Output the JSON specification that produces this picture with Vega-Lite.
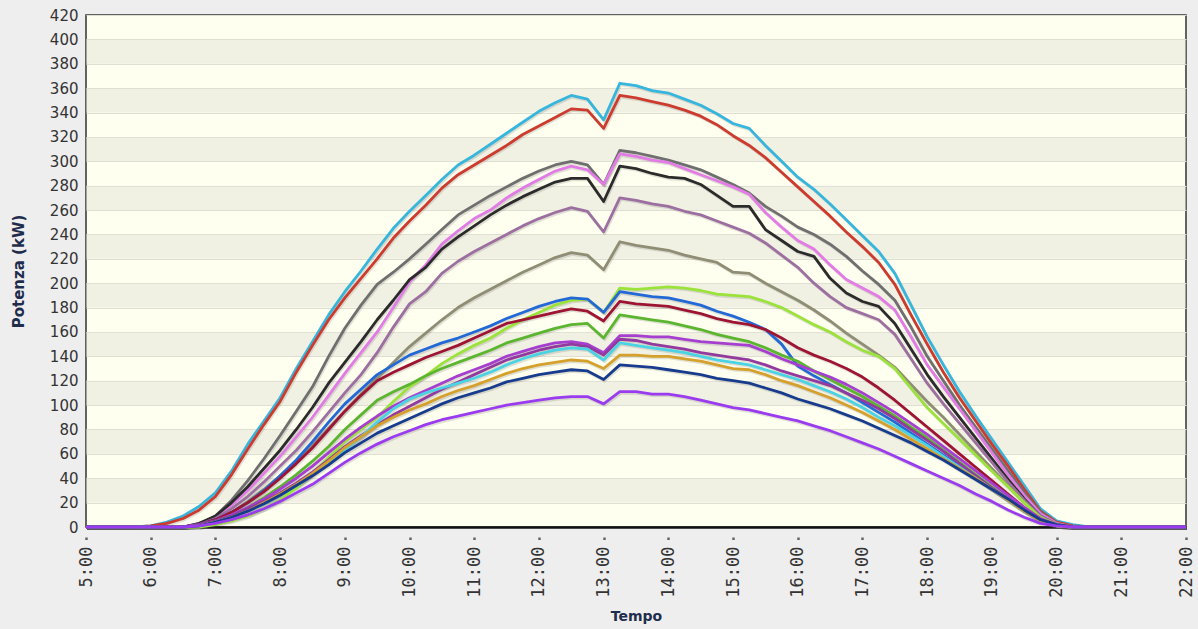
{
"$schema": "https://vega.github.io/schema/vega-lite/v6.json",
"width": 1100, "height": 512,
"autosize": "none",
"padding": {"left": 86, "top": 15, "right": 12, "bottom": 102},
"background": "#eeeeee",
"view": {"fill": "#fffff0", "stroke": "#333333", "strokeWidth": 1.5},
"datasets": {"lines": [
{"s":"A","h":5,"v":0},{"s":"A","h":5.75,"v":0},{"s":"A","h":6,"v":1},{"s":"A","h":6.25,"v":4},{"s":"A","h":6.5,"v":9},{"s":"A","h":6.75,"v":17},{"s":"A","h":7,"v":28},{"s":"A","h":7.25,"v":46},{"s":"A","h":7.5,"v":68},{"s":"A","h":7.75,"v":87},{"s":"A","h":8,"v":106},{"s":"A","h":8.25,"v":130},{"s":"A","h":8.5,"v":152},{"s":"A","h":8.75,"v":174},{"s":"A","h":9,"v":193},{"s":"A","h":9.25,"v":210},{"s":"A","h":9.5,"v":228},{"s":"A","h":9.75,"v":245},{"s":"A","h":10,"v":259},{"s":"A","h":10.25,"v":272},{"s":"A","h":10.5,"v":285},{"s":"A","h":10.75,"v":297},{"s":"A","h":11,"v":305},{"s":"A","h":11.25,"v":314},{"s":"A","h":11.5,"v":323},{"s":"A","h":11.75,"v":332},{"s":"A","h":12,"v":341},{"s":"A","h":12.25,"v":348},{"s":"A","h":12.5,"v":354},{"s":"A","h":12.75,"v":351},{"s":"A","h":13,"v":334},{"s":"A","h":13.25,"v":364},{"s":"A","h":13.5,"v":362},{"s":"A","h":13.75,"v":358},{"s":"A","h":14,"v":356},{"s":"A","h":14.25,"v":351},{"s":"A","h":14.5,"v":346},{"s":"A","h":14.75,"v":339},{"s":"A","h":15,"v":331},{"s":"A","h":15.25,"v":327},{"s":"A","h":15.5,"v":313},{"s":"A","h":15.75,"v":300},{"s":"A","h":16,"v":287},{"s":"A","h":16.25,"v":277},{"s":"A","h":16.5,"v":265},{"s":"A","h":16.75,"v":252},{"s":"A","h":17,"v":239},{"s":"A","h":17.25,"v":226},{"s":"A","h":17.5,"v":208},{"s":"A","h":17.75,"v":182},{"s":"A","h":18,"v":156},{"s":"A","h":18.25,"v":133},{"s":"A","h":18.5,"v":111},{"s":"A","h":18.75,"v":91},{"s":"A","h":19,"v":72},{"s":"A","h":19.25,"v":53},{"s":"A","h":19.5,"v":34},{"s":"A","h":19.75,"v":15},{"s":"A","h":20,"v":5},{"s":"A","h":20.25,"v":2},{"s":"A","h":20.5,"v":0},{"s":"A","h":22,"v":0},
{"s":"B","h":5,"v":0},{"s":"B","h":5.75,"v":0},{"s":"B","h":6,"v":1},{"s":"B","h":6.25,"v":3},{"s":"B","h":6.5,"v":7},{"s":"B","h":6.75,"v":14},{"s":"B","h":7,"v":25},{"s":"B","h":7.25,"v":43},{"s":"B","h":7.5,"v":64},{"s":"B","h":7.75,"v":84},{"s":"B","h":8,"v":103},{"s":"B","h":8.25,"v":127},{"s":"B","h":8.5,"v":149},{"s":"B","h":8.75,"v":170},{"s":"B","h":9,"v":188},{"s":"B","h":9.25,"v":204},{"s":"B","h":9.5,"v":220},{"s":"B","h":9.75,"v":237},{"s":"B","h":10,"v":251},{"s":"B","h":10.25,"v":264},{"s":"B","h":10.5,"v":278},{"s":"B","h":10.75,"v":289},{"s":"B","h":11,"v":297},{"s":"B","h":11.25,"v":305},{"s":"B","h":11.5,"v":313},{"s":"B","h":11.75,"v":322},{"s":"B","h":12,"v":329},{"s":"B","h":12.25,"v":336},{"s":"B","h":12.5,"v":343},{"s":"B","h":12.75,"v":342},{"s":"B","h":13,"v":327},{"s":"B","h":13.25,"v":354},{"s":"B","h":13.5,"v":352},{"s":"B","h":13.75,"v":349},{"s":"B","h":14,"v":346},{"s":"B","h":14.25,"v":342},{"s":"B","h":14.5,"v":337},{"s":"B","h":14.75,"v":330},{"s":"B","h":15,"v":321},{"s":"B","h":15.25,"v":313},{"s":"B","h":15.5,"v":303},{"s":"B","h":15.75,"v":291},{"s":"B","h":16,"v":279},{"s":"B","h":16.25,"v":267},{"s":"B","h":16.5,"v":255},{"s":"B","h":16.75,"v":242},{"s":"B","h":17,"v":230},{"s":"B","h":17.25,"v":217},{"s":"B","h":17.5,"v":199},{"s":"B","h":17.75,"v":174},{"s":"B","h":18,"v":150},{"s":"B","h":18.25,"v":127},{"s":"B","h":18.5,"v":106},{"s":"B","h":18.75,"v":87},{"s":"B","h":19,"v":68},{"s":"B","h":19.25,"v":50},{"s":"B","h":19.5,"v":31},{"s":"B","h":19.75,"v":13},{"s":"B","h":20,"v":4},{"s":"B","h":20.25,"v":1},{"s":"B","h":20.5,"v":0},{"s":"B","h":22,"v":0},
{"s":"C","h":5,"v":0},{"s":"C","h":6.5,"v":0},{"s":"C","h":6.75,"v":2},{"s":"C","h":7,"v":9},{"s":"C","h":7.25,"v":22},{"s":"C","h":7.5,"v":38},{"s":"C","h":7.75,"v":56},{"s":"C","h":8,"v":75},{"s":"C","h":8.25,"v":95},{"s":"C","h":8.5,"v":115},{"s":"C","h":8.75,"v":140},{"s":"C","h":9,"v":163},{"s":"C","h":9.25,"v":182},{"s":"C","h":9.5,"v":199},{"s":"C","h":9.75,"v":209},{"s":"C","h":10,"v":220},{"s":"C","h":10.25,"v":232},{"s":"C","h":10.5,"v":244},{"s":"C","h":10.75,"v":256},{"s":"C","h":11,"v":264},{"s":"C","h":11.25,"v":272},{"s":"C","h":11.5,"v":279},{"s":"C","h":11.75,"v":286},{"s":"C","h":12,"v":292},{"s":"C","h":12.25,"v":297},{"s":"C","h":12.5,"v":300},{"s":"C","h":12.75,"v":297},{"s":"C","h":13,"v":281},{"s":"C","h":13.25,"v":309},{"s":"C","h":13.5,"v":307},{"s":"C","h":13.75,"v":304},{"s":"C","h":14,"v":301},{"s":"C","h":14.25,"v":297},{"s":"C","h":14.5,"v":293},{"s":"C","h":14.75,"v":287},{"s":"C","h":15,"v":281},{"s":"C","h":15.25,"v":274},{"s":"C","h":15.5,"v":263},{"s":"C","h":15.75,"v":255},{"s":"C","h":16,"v":246},{"s":"C","h":16.25,"v":240},{"s":"C","h":16.5,"v":232},{"s":"C","h":16.75,"v":222},{"s":"C","h":17,"v":210},{"s":"C","h":17.25,"v":199},{"s":"C","h":17.5,"v":186},{"s":"C","h":17.75,"v":164},{"s":"C","h":18,"v":140},{"s":"C","h":18.25,"v":120},{"s":"C","h":18.5,"v":100},{"s":"C","h":18.75,"v":82},{"s":"C","h":19,"v":64},{"s":"C","h":19.25,"v":46},{"s":"C","h":19.5,"v":28},{"s":"C","h":19.75,"v":12},{"s":"C","h":20,"v":3},{"s":"C","h":20.25,"v":0},{"s":"C","h":22,"v":0},
{"s":"D","h":5,"v":0},{"s":"D","h":6.5,"v":0},{"s":"D","h":6.75,"v":3},{"s":"D","h":7,"v":8},{"s":"D","h":7.25,"v":18},{"s":"D","h":7.5,"v":30},{"s":"D","h":7.75,"v":44},{"s":"D","h":8,"v":58},{"s":"D","h":8.25,"v":74},{"s":"D","h":8.5,"v":90},{"s":"D","h":8.75,"v":108},{"s":"D","h":9,"v":126},{"s":"D","h":9.25,"v":143},{"s":"D","h":9.5,"v":160},{"s":"D","h":9.75,"v":180},{"s":"D","h":10,"v":201},{"s":"D","h":10.25,"v":215},{"s":"D","h":10.5,"v":232},{"s":"D","h":10.75,"v":243},{"s":"D","h":11,"v":253},{"s":"D","h":11.25,"v":260},{"s":"D","h":11.5,"v":270},{"s":"D","h":11.75,"v":278},{"s":"D","h":12,"v":285},{"s":"D","h":12.25,"v":292},{"s":"D","h":12.5,"v":296},{"s":"D","h":12.75,"v":293},{"s":"D","h":13,"v":281},{"s":"D","h":13.25,"v":306},{"s":"D","h":13.5,"v":304},{"s":"D","h":13.75,"v":301},{"s":"D","h":14,"v":299},{"s":"D","h":14.25,"v":294},{"s":"D","h":14.5,"v":289},{"s":"D","h":14.75,"v":284},{"s":"D","h":15,"v":279},{"s":"D","h":15.25,"v":273},{"s":"D","h":15.5,"v":258},{"s":"D","h":15.75,"v":246},{"s":"D","h":16,"v":235},{"s":"D","h":16.25,"v":228},{"s":"D","h":16.5,"v":215},{"s":"D","h":16.75,"v":203},{"s":"D","h":17,"v":196},{"s":"D","h":17.25,"v":189},{"s":"D","h":17.5,"v":178},{"s":"D","h":17.75,"v":156},{"s":"D","h":18,"v":133},{"s":"D","h":18.25,"v":115},{"s":"D","h":18.5,"v":97},{"s":"D","h":18.75,"v":79},{"s":"D","h":19,"v":61},{"s":"D","h":19.25,"v":43},{"s":"D","h":19.5,"v":26},{"s":"D","h":19.75,"v":11},{"s":"D","h":20,"v":3},{"s":"D","h":20.25,"v":0},{"s":"D","h":22,"v":0},
{"s":"E","h":5,"v":0},{"s":"E","h":6.5,"v":0},{"s":"E","h":6.75,"v":3},{"s":"E","h":7,"v":9},{"s":"E","h":7.25,"v":20},{"s":"E","h":7.5,"v":33},{"s":"E","h":7.75,"v":48},{"s":"E","h":8,"v":63},{"s":"E","h":8.25,"v":80},{"s":"E","h":8.5,"v":98},{"s":"E","h":8.75,"v":118},{"s":"E","h":9,"v":135},{"s":"E","h":9.25,"v":152},{"s":"E","h":9.5,"v":170},{"s":"E","h":9.75,"v":186},{"s":"E","h":10,"v":203},{"s":"E","h":10.25,"v":213},{"s":"E","h":10.5,"v":228},{"s":"E","h":10.75,"v":238},{"s":"E","h":11,"v":247},{"s":"E","h":11.25,"v":256},{"s":"E","h":11.5,"v":264},{"s":"E","h":11.75,"v":271},{"s":"E","h":12,"v":277},{"s":"E","h":12.25,"v":283},{"s":"E","h":12.5,"v":286},{"s":"E","h":12.75,"v":286},{"s":"E","h":13,"v":267},{"s":"E","h":13.25,"v":296},{"s":"E","h":13.5,"v":294},{"s":"E","h":13.75,"v":290},{"s":"E","h":14,"v":287},{"s":"E","h":14.25,"v":286},{"s":"E","h":14.5,"v":281},{"s":"E","h":14.75,"v":272},{"s":"E","h":15,"v":263},{"s":"E","h":15.25,"v":263},{"s":"E","h":15.5,"v":244},{"s":"E","h":15.75,"v":235},{"s":"E","h":16,"v":226},{"s":"E","h":16.25,"v":222},{"s":"E","h":16.5,"v":204},{"s":"E","h":16.75,"v":192},{"s":"E","h":17,"v":185},{"s":"E","h":17.25,"v":181},{"s":"E","h":17.5,"v":167},{"s":"E","h":17.75,"v":146},{"s":"E","h":18,"v":125},{"s":"E","h":18.25,"v":107},{"s":"E","h":18.5,"v":90},{"s":"E","h":18.75,"v":73},{"s":"E","h":19,"v":56},{"s":"E","h":19.25,"v":39},{"s":"E","h":19.5,"v":23},{"s":"E","h":19.75,"v":9},{"s":"E","h":20,"v":2},{"s":"E","h":20.25,"v":0},{"s":"E","h":22,"v":0},
{"s":"F","h":5,"v":0},{"s":"F","h":6.5,"v":0},{"s":"F","h":6.75,"v":2},{"s":"F","h":7,"v":7},{"s":"F","h":7.25,"v":15},{"s":"F","h":7.5,"v":25},{"s":"F","h":7.75,"v":37},{"s":"F","h":8,"v":50},{"s":"F","h":8.25,"v":63},{"s":"F","h":8.5,"v":78},{"s":"F","h":8.75,"v":94},{"s":"F","h":9,"v":110},{"s":"F","h":9.25,"v":125},{"s":"F","h":9.5,"v":143},{"s":"F","h":9.75,"v":164},{"s":"F","h":10,"v":183},{"s":"F","h":10.25,"v":193},{"s":"F","h":10.5,"v":208},{"s":"F","h":10.75,"v":218},{"s":"F","h":11,"v":226},{"s":"F","h":11.25,"v":233},{"s":"F","h":11.5,"v":240},{"s":"F","h":11.75,"v":247},{"s":"F","h":12,"v":253},{"s":"F","h":12.25,"v":258},{"s":"F","h":12.5,"v":262},{"s":"F","h":12.75,"v":259},{"s":"F","h":13,"v":242},{"s":"F","h":13.25,"v":270},{"s":"F","h":13.5,"v":268},{"s":"F","h":13.75,"v":265},{"s":"F","h":14,"v":263},{"s":"F","h":14.25,"v":259},{"s":"F","h":14.5,"v":256},{"s":"F","h":14.75,"v":251},{"s":"F","h":15,"v":246},{"s":"F","h":15.25,"v":241},{"s":"F","h":15.5,"v":233},{"s":"F","h":15.75,"v":223},{"s":"F","h":16,"v":213},{"s":"F","h":16.25,"v":200},{"s":"F","h":16.5,"v":189},{"s":"F","h":16.75,"v":180},{"s":"F","h":17,"v":175},{"s":"F","h":17.25,"v":170},{"s":"F","h":17.5,"v":158},{"s":"F","h":17.75,"v":138},{"s":"F","h":18,"v":118},{"s":"F","h":18.25,"v":101},{"s":"F","h":18.5,"v":85},{"s":"F","h":18.75,"v":69},{"s":"F","h":19,"v":53},{"s":"F","h":19.25,"v":37},{"s":"F","h":19.5,"v":22},{"s":"F","h":19.75,"v":9},{"s":"F","h":20,"v":2},{"s":"F","h":20.25,"v":0},{"s":"F","h":22,"v":0},
{"s":"G","h":5,"v":0},{"s":"G","h":6.75,"v":0},{"s":"G","h":7,"v":5},{"s":"G","h":7.25,"v":12},{"s":"G","h":7.5,"v":21},{"s":"G","h":7.75,"v":31},{"s":"G","h":8,"v":42},{"s":"G","h":8.25,"v":54},{"s":"G","h":8.5,"v":67},{"s":"G","h":8.75,"v":81},{"s":"G","h":9,"v":95},{"s":"G","h":9.25,"v":109},{"s":"G","h":9.5,"v":122},{"s":"G","h":9.75,"v":135},{"s":"G","h":10,"v":148},{"s":"G","h":10.25,"v":159},{"s":"G","h":10.5,"v":170},{"s":"G","h":10.75,"v":180},{"s":"G","h":11,"v":188},{"s":"G","h":11.25,"v":195},{"s":"G","h":11.5,"v":202},{"s":"G","h":11.75,"v":209},{"s":"G","h":12,"v":215},{"s":"G","h":12.25,"v":221},{"s":"G","h":12.5,"v":225},{"s":"G","h":12.75,"v":223},{"s":"G","h":13,"v":211},{"s":"G","h":13.25,"v":234},{"s":"G","h":13.5,"v":231},{"s":"G","h":13.75,"v":229},{"s":"G","h":14,"v":227},{"s":"G","h":14.25,"v":223},{"s":"G","h":14.5,"v":220},{"s":"G","h":14.75,"v":217},{"s":"G","h":15,"v":209},{"s":"G","h":15.25,"v":208},{"s":"G","h":15.5,"v":200},{"s":"G","h":15.75,"v":193},{"s":"G","h":16,"v":186},{"s":"G","h":16.25,"v":178},{"s":"G","h":16.5,"v":169},{"s":"G","h":16.75,"v":159},{"s":"G","h":17,"v":150},{"s":"G","h":17.25,"v":141},{"s":"G","h":17.5,"v":131},{"s":"G","h":17.75,"v":117},{"s":"G","h":18,"v":103},{"s":"G","h":18.25,"v":90},{"s":"G","h":18.5,"v":76},{"s":"G","h":18.75,"v":62},{"s":"G","h":19,"v":48},{"s":"G","h":19.25,"v":34},{"s":"G","h":19.5,"v":20},{"s":"G","h":19.75,"v":8},{"s":"G","h":20,"v":2},{"s":"G","h":20.25,"v":0},{"s":"G","h":22,"v":0},
{"s":"H","h":5,"v":0},{"s":"H","h":6.75,"v":0},{"s":"H","h":7,"v":2},{"s":"H","h":7.25,"v":5},{"s":"H","h":7.5,"v":9},{"s":"H","h":7.75,"v":15},{"s":"H","h":8,"v":22},{"s":"H","h":8.25,"v":32},{"s":"H","h":8.5,"v":44},{"s":"H","h":8.75,"v":57},{"s":"H","h":9,"v":70},{"s":"H","h":9.25,"v":80},{"s":"H","h":9.5,"v":90},{"s":"H","h":9.75,"v":103},{"s":"H","h":10,"v":115},{"s":"H","h":10.25,"v":124},{"s":"H","h":10.5,"v":134},{"s":"H","h":10.75,"v":142},{"s":"H","h":11,"v":149},{"s":"H","h":11.25,"v":155},{"s":"H","h":11.5,"v":163},{"s":"H","h":11.75,"v":170},{"s":"H","h":12,"v":176},{"s":"H","h":12.25,"v":182},{"s":"H","h":12.5,"v":186},{"s":"H","h":12.75,"v":187},{"s":"H","h":13,"v":176},{"s":"H","h":13.25,"v":196},{"s":"H","h":13.5,"v":195},{"s":"H","h":13.75,"v":196},{"s":"H","h":14,"v":197},{"s":"H","h":14.25,"v":196},{"s":"H","h":14.5,"v":194},{"s":"H","h":14.75,"v":191},{"s":"H","h":15,"v":190},{"s":"H","h":15.25,"v":189},{"s":"H","h":15.5,"v":185},{"s":"H","h":15.75,"v":180},{"s":"H","h":16,"v":173},{"s":"H","h":16.25,"v":166},{"s":"H","h":16.5,"v":160},{"s":"H","h":16.75,"v":152},{"s":"H","h":17,"v":145},{"s":"H","h":17.25,"v":140},{"s":"H","h":17.5,"v":130},{"s":"H","h":17.75,"v":114},{"s":"H","h":18,"v":98},{"s":"H","h":18.25,"v":85},{"s":"H","h":18.5,"v":72},{"s":"H","h":18.75,"v":59},{"s":"H","h":19,"v":46},{"s":"H","h":19.25,"v":33},{"s":"H","h":19.5,"v":20},{"s":"H","h":19.75,"v":8},{"s":"H","h":20,"v":2},{"s":"H","h":20.25,"v":0},{"s":"H","h":22,"v":0},
{"s":"I","h":5,"v":0},{"s":"I","h":6.5,"v":0},{"s":"I","h":6.75,"v":2},{"s":"I","h":7,"v":6},{"s":"I","h":7.25,"v":12},{"s":"I","h":7.5,"v":20},{"s":"I","h":7.75,"v":30},{"s":"I","h":8,"v":42},{"s":"I","h":8.25,"v":55},{"s":"I","h":8.5,"v":70},{"s":"I","h":8.75,"v":86},{"s":"I","h":9,"v":101},{"s":"I","h":9.25,"v":113},{"s":"I","h":9.5,"v":125},{"s":"I","h":9.75,"v":133},{"s":"I","h":10,"v":141},{"s":"I","h":10.25,"v":146},{"s":"I","h":10.5,"v":151},{"s":"I","h":10.75,"v":155},{"s":"I","h":11,"v":160},{"s":"I","h":11.25,"v":165},{"s":"I","h":11.5,"v":171},{"s":"I","h":11.75,"v":176},{"s":"I","h":12,"v":181},{"s":"I","h":12.25,"v":185},{"s":"I","h":12.5,"v":188},{"s":"I","h":12.75,"v":187},{"s":"I","h":13,"v":176},{"s":"I","h":13.25,"v":193},{"s":"I","h":13.5,"v":191},{"s":"I","h":13.75,"v":189},{"s":"I","h":14,"v":188},{"s":"I","h":14.25,"v":185},{"s":"I","h":14.5,"v":182},{"s":"I","h":14.75,"v":177},{"s":"I","h":15,"v":173},{"s":"I","h":15.25,"v":168},{"s":"I","h":15.5,"v":162},{"s":"I","h":15.75,"v":150},{"s":"I","h":16,"v":132},{"s":"I","h":16.25,"v":124},{"s":"I","h":16.5,"v":117},{"s":"I","h":16.75,"v":110},{"s":"I","h":17,"v":102},{"s":"I","h":17.25,"v":94},{"s":"I","h":17.5,"v":86},{"s":"I","h":17.75,"v":77},{"s":"I","h":18,"v":68},{"s":"I","h":18.25,"v":59},{"s":"I","h":18.5,"v":50},{"s":"I","h":18.75,"v":40},{"s":"I","h":19,"v":31},{"s":"I","h":19.25,"v":22},{"s":"I","h":19.5,"v":13},{"s":"I","h":19.75,"v":5},{"s":"I","h":20,"v":1},{"s":"I","h":20.25,"v":0},{"s":"I","h":22,"v":0},
{"s":"J","h":5,"v":0},{"s":"J","h":6.5,"v":0},{"s":"J","h":6.75,"v":2},{"s":"J","h":7,"v":6},{"s":"J","h":7.25,"v":12},{"s":"J","h":7.5,"v":20},{"s":"J","h":7.75,"v":29},{"s":"J","h":8,"v":40},{"s":"J","h":8.25,"v":52},{"s":"J","h":8.5,"v":65},{"s":"J","h":8.75,"v":80},{"s":"J","h":9,"v":95},{"s":"J","h":9.25,"v":108},{"s":"J","h":9.5,"v":120},{"s":"J","h":9.75,"v":127},{"s":"J","h":10,"v":133},{"s":"J","h":10.25,"v":139},{"s":"J","h":10.5,"v":144},{"s":"J","h":10.75,"v":149},{"s":"J","h":11,"v":155},{"s":"J","h":11.25,"v":161},{"s":"J","h":11.5,"v":167},{"s":"J","h":11.75,"v":170},{"s":"J","h":12,"v":173},{"s":"J","h":12.25,"v":176},{"s":"J","h":12.5,"v":179},{"s":"J","h":12.75,"v":177},{"s":"J","h":13,"v":169},{"s":"J","h":13.25,"v":185},{"s":"J","h":13.5,"v":183},{"s":"J","h":13.75,"v":182},{"s":"J","h":14,"v":181},{"s":"J","h":14.25,"v":178},{"s":"J","h":14.5,"v":175},{"s":"J","h":14.75,"v":171},{"s":"J","h":15,"v":168},{"s":"J","h":15.25,"v":166},{"s":"J","h":15.5,"v":162},{"s":"J","h":15.75,"v":155},{"s":"J","h":16,"v":147},{"s":"J","h":16.25,"v":141},{"s":"J","h":16.5,"v":136},{"s":"J","h":16.75,"v":130},{"s":"J","h":17,"v":123},{"s":"J","h":17.25,"v":114},{"s":"J","h":17.5,"v":104},{"s":"J","h":17.75,"v":93},{"s":"J","h":18,"v":82},{"s":"J","h":18.25,"v":71},{"s":"J","h":18.5,"v":60},{"s":"J","h":18.75,"v":49},{"s":"J","h":19,"v":38},{"s":"J","h":19.25,"v":27},{"s":"J","h":19.5,"v":16},{"s":"J","h":19.75,"v":6},{"s":"J","h":20,"v":1},{"s":"J","h":20.25,"v":0},{"s":"J","h":22,"v":0},
{"s":"K","h":5,"v":0},{"s":"K","h":6.5,"v":0},{"s":"K","h":6.75,"v":1},{"s":"K","h":7,"v":4},{"s":"K","h":7.25,"v":9},{"s":"K","h":7.5,"v":16},{"s":"K","h":7.75,"v":24},{"s":"K","h":8,"v":33},{"s":"K","h":8.25,"v":43},{"s":"K","h":8.5,"v":54},{"s":"K","h":8.75,"v":66},{"s":"K","h":9,"v":80},{"s":"K","h":9.25,"v":92},{"s":"K","h":9.5,"v":104},{"s":"K","h":9.75,"v":111},{"s":"K","h":10,"v":117},{"s":"K","h":10.25,"v":124},{"s":"K","h":10.5,"v":130},{"s":"K","h":10.75,"v":135},{"s":"K","h":11,"v":140},{"s":"K","h":11.25,"v":145},{"s":"K","h":11.5,"v":151},{"s":"K","h":11.75,"v":155},{"s":"K","h":12,"v":159},{"s":"K","h":12.25,"v":163},{"s":"K","h":12.5,"v":166},{"s":"K","h":12.75,"v":167},{"s":"K","h":13,"v":155},{"s":"K","h":13.25,"v":174},{"s":"K","h":13.5,"v":172},{"s":"K","h":13.75,"v":170},{"s":"K","h":14,"v":168},{"s":"K","h":14.25,"v":165},{"s":"K","h":14.5,"v":162},{"s":"K","h":14.75,"v":158},{"s":"K","h":15,"v":155},{"s":"K","h":15.25,"v":152},{"s":"K","h":15.5,"v":147},{"s":"K","h":15.75,"v":141},{"s":"K","h":16,"v":136},{"s":"K","h":16.25,"v":128},{"s":"K","h":16.5,"v":121},{"s":"K","h":16.75,"v":114},{"s":"K","h":17,"v":107},{"s":"K","h":17.25,"v":99},{"s":"K","h":17.5,"v":91},{"s":"K","h":17.75,"v":82},{"s":"K","h":18,"v":73},{"s":"K","h":18.25,"v":63},{"s":"K","h":18.5,"v":53},{"s":"K","h":18.75,"v":43},{"s":"K","h":19,"v":33},{"s":"K","h":19.25,"v":23},{"s":"K","h":19.5,"v":14},{"s":"K","h":19.75,"v":5},{"s":"K","h":20,"v":1},{"s":"K","h":20.25,"v":0},{"s":"K","h":22,"v":0},
{"s":"L","h":5,"v":0},{"s":"L","h":6.5,"v":0},{"s":"L","h":6.75,"v":2},{"s":"L","h":7,"v":5},{"s":"L","h":7.25,"v":10},{"s":"L","h":7.5,"v":16},{"s":"L","h":7.75,"v":23},{"s":"L","h":8,"v":31},{"s":"L","h":8.25,"v":40},{"s":"L","h":8.5,"v":50},{"s":"L","h":8.75,"v":61},{"s":"L","h":9,"v":72},{"s":"L","h":9.25,"v":82},{"s":"L","h":9.5,"v":91},{"s":"L","h":9.75,"v":99},{"s":"L","h":10,"v":106},{"s":"L","h":10.25,"v":112},{"s":"L","h":10.5,"v":118},{"s":"L","h":10.75,"v":124},{"s":"L","h":11,"v":129},{"s":"L","h":11.25,"v":134},{"s":"L","h":11.5,"v":140},{"s":"L","h":11.75,"v":144},{"s":"L","h":12,"v":148},{"s":"L","h":12.25,"v":151},{"s":"L","h":12.5,"v":152},{"s":"L","h":12.75,"v":150},{"s":"L","h":13,"v":143},{"s":"L","h":13.25,"v":157},{"s":"L","h":13.5,"v":157},{"s":"L","h":13.75,"v":156},{"s":"L","h":14,"v":156},{"s":"L","h":14.25,"v":154},{"s":"L","h":14.5,"v":152},{"s":"L","h":14.75,"v":151},{"s":"L","h":15,"v":150},{"s":"L","h":15.25,"v":149},{"s":"L","h":15.5,"v":144},{"s":"L","h":15.75,"v":138},{"s":"L","h":16,"v":133},{"s":"L","h":16.25,"v":128},{"s":"L","h":16.5,"v":123},{"s":"L","h":16.75,"v":117},{"s":"L","h":17,"v":110},{"s":"L","h":17.25,"v":102},{"s":"L","h":17.5,"v":94},{"s":"L","h":17.75,"v":85},{"s":"L","h":18,"v":76},{"s":"L","h":18.25,"v":66},{"s":"L","h":18.5,"v":56},{"s":"L","h":18.75,"v":46},{"s":"L","h":19,"v":36},{"s":"L","h":19.25,"v":26},{"s":"L","h":19.5,"v":16},{"s":"L","h":19.75,"v":7},{"s":"L","h":20,"v":2},{"s":"L","h":20.25,"v":0},{"s":"L","h":22,"v":0},
{"s":"M","h":5,"v":0},{"s":"M","h":6.5,"v":0},{"s":"M","h":6.75,"v":2},{"s":"M","h":7,"v":5},{"s":"M","h":7.25,"v":9},{"s":"M","h":7.5,"v":15},{"s":"M","h":7.75,"v":21},{"s":"M","h":8,"v":28},{"s":"M","h":8.25,"v":36},{"s":"M","h":8.5,"v":45},{"s":"M","h":8.75,"v":55},{"s":"M","h":9,"v":66},{"s":"M","h":9.25,"v":75},{"s":"M","h":9.5,"v":84},{"s":"M","h":9.75,"v":92},{"s":"M","h":10,"v":99},{"s":"M","h":10.25,"v":106},{"s":"M","h":10.5,"v":113},{"s":"M","h":10.75,"v":119},{"s":"M","h":11,"v":125},{"s":"M","h":11.25,"v":131},{"s":"M","h":11.5,"v":137},{"s":"M","h":11.75,"v":141},{"s":"M","h":12,"v":145},{"s":"M","h":12.25,"v":148},{"s":"M","h":12.5,"v":150},{"s":"M","h":12.75,"v":148},{"s":"M","h":13,"v":141},{"s":"M","h":13.25,"v":154},{"s":"M","h":13.5,"v":153},{"s":"M","h":13.75,"v":150},{"s":"M","h":14,"v":148},{"s":"M","h":14.25,"v":146},{"s":"M","h":14.5,"v":143},{"s":"M","h":14.75,"v":141},{"s":"M","h":15,"v":139},{"s":"M","h":15.25,"v":137},{"s":"M","h":15.5,"v":133},{"s":"M","h":15.75,"v":128},{"s":"M","h":16,"v":124},{"s":"M","h":16.25,"v":120},{"s":"M","h":16.5,"v":116},{"s":"M","h":16.75,"v":110},{"s":"M","h":17,"v":104},{"s":"M","h":17.25,"v":97},{"s":"M","h":17.5,"v":89},{"s":"M","h":17.75,"v":80},{"s":"M","h":18,"v":71},{"s":"M","h":18.25,"v":62},{"s":"M","h":18.5,"v":52},{"s":"M","h":18.75,"v":42},{"s":"M","h":19,"v":32},{"s":"M","h":19.25,"v":23},{"s":"M","h":19.5,"v":14},{"s":"M","h":19.75,"v":6},{"s":"M","h":20,"v":1},{"s":"M","h":20.25,"v":0},{"s":"M","h":22,"v":0},
{"s":"N","h":5,"v":0},{"s":"N","h":6.5,"v":0},{"s":"N","h":6.75,"v":1},{"s":"N","h":7,"v":4},{"s":"N","h":7.25,"v":8},{"s":"N","h":7.5,"v":13},{"s":"N","h":7.75,"v":19},{"s":"N","h":8,"v":26},{"s":"N","h":8.25,"v":34},{"s":"N","h":8.5,"v":43},{"s":"N","h":8.75,"v":53},{"s":"N","h":9,"v":63},{"s":"N","h":9.25,"v":74},{"s":"N","h":9.5,"v":86},{"s":"N","h":9.75,"v":97},{"s":"N","h":10,"v":105},{"s":"N","h":10.25,"v":110},{"s":"N","h":10.5,"v":114},{"s":"N","h":10.75,"v":118},{"s":"N","h":11,"v":122},{"s":"N","h":11.25,"v":127},{"s":"N","h":11.5,"v":133},{"s":"N","h":11.75,"v":138},{"s":"N","h":12,"v":142},{"s":"N","h":12.25,"v":145},{"s":"N","h":12.5,"v":147},{"s":"N","h":12.75,"v":146},{"s":"N","h":13,"v":137},{"s":"N","h":13.25,"v":151},{"s":"N","h":13.5,"v":149},{"s":"N","h":13.75,"v":147},{"s":"N","h":14,"v":145},{"s":"N","h":14.25,"v":143},{"s":"N","h":14.5,"v":140},{"s":"N","h":14.75,"v":137},{"s":"N","h":15,"v":135},{"s":"N","h":15.25,"v":133},{"s":"N","h":15.5,"v":129},{"s":"N","h":15.75,"v":125},{"s":"N","h":16,"v":121},{"s":"N","h":16.25,"v":116},{"s":"N","h":16.5,"v":111},{"s":"N","h":16.75,"v":105},{"s":"N","h":17,"v":98},{"s":"N","h":17.25,"v":90},{"s":"N","h":17.5,"v":83},{"s":"N","h":17.75,"v":75},{"s":"N","h":18,"v":67},{"s":"N","h":18.25,"v":58},{"s":"N","h":18.5,"v":49},{"s":"N","h":18.75,"v":40},{"s":"N","h":19,"v":31},{"s":"N","h":19.25,"v":22},{"s":"N","h":19.5,"v":13},{"s":"N","h":19.75,"v":5},{"s":"N","h":20,"v":1},{"s":"N","h":20.25,"v":0},{"s":"N","h":22,"v":0},
{"s":"O","h":5,"v":0},{"s":"O","h":6.5,"v":0},{"s":"O","h":6.75,"v":1},{"s":"O","h":7,"v":4},{"s":"O","h":7.25,"v":8},{"s":"O","h":7.5,"v":13},{"s":"O","h":7.75,"v":20},{"s":"O","h":8,"v":27},{"s":"O","h":8.25,"v":35},{"s":"O","h":8.5,"v":44},{"s":"O","h":8.75,"v":54},{"s":"O","h":9,"v":65},{"s":"O","h":9.25,"v":74},{"s":"O","h":9.5,"v":83},{"s":"O","h":9.75,"v":90},{"s":"O","h":10,"v":96},{"s":"O","h":10.25,"v":101},{"s":"O","h":10.5,"v":107},{"s":"O","h":10.75,"v":112},{"s":"O","h":11,"v":116},{"s":"O","h":11.25,"v":121},{"s":"O","h":11.5,"v":126},{"s":"O","h":11.75,"v":130},{"s":"O","h":12,"v":133},{"s":"O","h":12.25,"v":135},{"s":"O","h":12.5,"v":137},{"s":"O","h":12.75,"v":136},{"s":"O","h":13,"v":130},{"s":"O","h":13.25,"v":141},{"s":"O","h":13.5,"v":141},{"s":"O","h":13.75,"v":140},{"s":"O","h":14,"v":140},{"s":"O","h":14.25,"v":138},{"s":"O","h":14.5,"v":136},{"s":"O","h":14.75,"v":133},{"s":"O","h":15,"v":130},{"s":"O","h":15.25,"v":129},{"s":"O","h":15.5,"v":125},{"s":"O","h":15.75,"v":120},{"s":"O","h":16,"v":116},{"s":"O","h":16.25,"v":111},{"s":"O","h":16.5,"v":106},{"s":"O","h":16.75,"v":100},{"s":"O","h":17,"v":94},{"s":"O","h":17.25,"v":87},{"s":"O","h":17.5,"v":80},{"s":"O","h":17.75,"v":72},{"s":"O","h":18,"v":64},{"s":"O","h":18.25,"v":56},{"s":"O","h":18.5,"v":48},{"s":"O","h":18.75,"v":40},{"s":"O","h":19,"v":31},{"s":"O","h":19.25,"v":22},{"s":"O","h":19.5,"v":13},{"s":"O","h":19.75,"v":5},{"s":"O","h":20,"v":1},{"s":"O","h":20.25,"v":0},{"s":"O","h":22,"v":0},
{"s":"P","h":5,"v":0},{"s":"P","h":6.5,"v":0},{"s":"P","h":6.75,"v":1},{"s":"P","h":7,"v":4},{"s":"P","h":7.25,"v":8},{"s":"P","h":7.5,"v":13},{"s":"P","h":7.75,"v":19},{"s":"P","h":8,"v":26},{"s":"P","h":8.25,"v":34},{"s":"P","h":8.5,"v":42},{"s":"P","h":8.75,"v":51},{"s":"P","h":9,"v":61},{"s":"P","h":9.25,"v":69},{"s":"P","h":9.5,"v":77},{"s":"P","h":9.75,"v":83},{"s":"P","h":10,"v":89},{"s":"P","h":10.25,"v":95},{"s":"P","h":10.5,"v":101},{"s":"P","h":10.75,"v":106},{"s":"P","h":11,"v":110},{"s":"P","h":11.25,"v":114},{"s":"P","h":11.5,"v":119},{"s":"P","h":11.75,"v":122},{"s":"P","h":12,"v":125},{"s":"P","h":12.25,"v":127},{"s":"P","h":12.5,"v":129},{"s":"P","h":12.75,"v":128},{"s":"P","h":13,"v":121},{"s":"P","h":13.25,"v":133},{"s":"P","h":13.5,"v":132},{"s":"P","h":13.75,"v":131},{"s":"P","h":14,"v":129},{"s":"P","h":14.25,"v":127},{"s":"P","h":14.5,"v":125},{"s":"P","h":14.75,"v":122},{"s":"P","h":15,"v":120},{"s":"P","h":15.25,"v":118},{"s":"P","h":15.5,"v":114},{"s":"P","h":15.75,"v":110},{"s":"P","h":16,"v":105},{"s":"P","h":16.25,"v":101},{"s":"P","h":16.5,"v":97},{"s":"P","h":16.75,"v":92},{"s":"P","h":17,"v":87},{"s":"P","h":17.25,"v":81},{"s":"P","h":17.5,"v":75},{"s":"P","h":17.75,"v":69},{"s":"P","h":18,"v":62},{"s":"P","h":18.25,"v":55},{"s":"P","h":18.5,"v":47},{"s":"P","h":18.75,"v":39},{"s":"P","h":19,"v":31},{"s":"P","h":19.25,"v":23},{"s":"P","h":19.5,"v":14},{"s":"P","h":19.75,"v":6},{"s":"P","h":20,"v":2},{"s":"P","h":20.25,"v":0},{"s":"P","h":22,"v":0},
{"s":"Q","h":5,"v":0},{"s":"Q","h":6.5,"v":0},{"s":"Q","h":6.75,"v":1},{"s":"Q","h":7,"v":3},{"s":"Q","h":7.25,"v":6},{"s":"Q","h":7.5,"v":10},{"s":"Q","h":7.75,"v":15},{"s":"Q","h":8,"v":21},{"s":"Q","h":8.25,"v":28},{"s":"Q","h":8.5,"v":35},{"s":"Q","h":8.75,"v":44},{"s":"Q","h":9,"v":53},{"s":"Q","h":9.25,"v":61},{"s":"Q","h":9.5,"v":68},{"s":"Q","h":9.75,"v":74},{"s":"Q","h":10,"v":79},{"s":"Q","h":10.25,"v":84},{"s":"Q","h":10.5,"v":88},{"s":"Q","h":10.75,"v":91},{"s":"Q","h":11,"v":94},{"s":"Q","h":11.25,"v":97},{"s":"Q","h":11.5,"v":100},{"s":"Q","h":11.75,"v":102},{"s":"Q","h":12,"v":104},{"s":"Q","h":12.25,"v":106},{"s":"Q","h":12.5,"v":107},{"s":"Q","h":12.75,"v":107},{"s":"Q","h":13,"v":101},{"s":"Q","h":13.25,"v":111},{"s":"Q","h":13.5,"v":111},{"s":"Q","h":13.75,"v":109},{"s":"Q","h":14,"v":109},{"s":"Q","h":14.25,"v":107},{"s":"Q","h":14.5,"v":104},{"s":"Q","h":14.75,"v":101},{"s":"Q","h":15,"v":98},{"s":"Q","h":15.25,"v":96},{"s":"Q","h":15.5,"v":93},{"s":"Q","h":15.75,"v":90},{"s":"Q","h":16,"v":87},{"s":"Q","h":16.25,"v":83},{"s":"Q","h":16.5,"v":79},{"s":"Q","h":16.75,"v":74},{"s":"Q","h":17,"v":69},{"s":"Q","h":17.25,"v":64},{"s":"Q","h":17.5,"v":58},{"s":"Q","h":17.75,"v":52},{"s":"Q","h":18,"v":46},{"s":"Q","h":18.25,"v":40},{"s":"Q","h":18.5,"v":34},{"s":"Q","h":18.75,"v":27},{"s":"Q","h":19,"v":21},{"s":"Q","h":19.25,"v":14},{"s":"Q","h":19.5,"v":8},{"s":"Q","h":19.75,"v":3},{"s":"Q","h":20,"v":1},{"s":"Q","h":20.25,"v":0},{"s":"Q","h":22,"v":0}
]},
"layer": [
{
"data": {"values": [{"lo":20,"hi":40},{"lo":60,"hi":80},{"lo":100,"hi":120},{"lo":140,"hi":160},{"lo":180,"hi":200},{"lo":220,"hi":240},{"lo":260,"hi":280},{"lo":300,"hi":320},{"lo":340,"hi":360},{"lo":380,"hi":400}]},
"mark": {"type": "rect", "fill": "#e4e4d6", "fillOpacity": 0.5},
"encoding": {
"x": {"datum": 5, "type": "quantitative", "scale": {"domain": [5, 22], "nice": false, "zero": false},
  "axis": {"title": "Tempo", "values": [5,5.25,5.5,5.75,6,6.25,6.5,6.75,7,7.25,7.5,7.75,8,8.25,8.5,8.75,9,9.25,9.5,9.75,10,10.25,10.5,10.75,11,11.25,11.5,11.75,12,12.25,12.5,12.75,13,13.25,13.5,13.75,14,14.25,14.5,14.75,15,15.25,15.5,15.75,16,16.25,16.5,16.75,17,17.25,17.5,17.75,18,18.25,18.5,18.75,19,19.25,19.5,19.75,20,20.25,20.5,20.75,21,21.25,21.5,21.75,22],
   "labelExpr": "datum.value % 1 === 0 ? datum.value + ':00' : ''",
   "labelAngle": -90, "labelAlign": "right", "labelBaseline": "middle", "labelFlush": false, "labelOverlap": false, "labelBound": false,
   "labelFont": "DejaVu Sans Mono", "labelFontSize": 17, "labelColor": "#333333", "labelPadding": 6,
   "tickSize": 13, "tickDash": [0, 10, 2.5, 40], "tickColor": "#666666", "tickWidth": 2.5,
   "domain": true, "domainColor": "#111111", "domainWidth": 2.5, "grid": false,
   "titleFont": "DejaVu Sans", "titleFontSize": 14, "titleFontWeight": "bold", "titleColor": "#1f2d4d",
   "titleX": 550, "titleY": 89, "titleBaseline": "middle", "titleAlign": "center"}},
"x2": {"datum": 22},
"y": {"field": "lo", "type": "quantitative", "scale": {"domain": [0, 420], "nice": false},
  "axis": {"title": "Potenza (kW)", "values": [0,20,40,60,80,100,120,140,160,180,200,220,240,260,280,300,320,340,360,380,400,420],
   "labelFont": "DejaVu Sans", "labelFontSize": 15, "labelColor": "#333333", "labelPadding": 8, "labelOverlap": false, "labelBound": false, "labelFlush": false,
   "ticks": false, "domain": false, "grid": true, "gridColor": "#deded2", "gridWidth": 1,
   "titleFont": "DejaVu Sans", "titleFontSize": 15, "titleFontWeight": "bold", "titleColor": "#1f2d4d",
   "titleX": -68, "titleY": 256, "titleBaseline": "middle", "titleAlign": "center", "titleAngle": -90}},
"y2": {"field": "hi"}
}
},
{
"data": {"name": "lines"},
"mark": {"type": "line", "strokeWidth": 3, "stroke": "#555555", "opacity": 0.18, "xOffset": 1, "yOffset": 1.5, "strokeJoin": "round"},
"encoding": {
"x": {"field": "h", "type": "quantitative"},
"y": {"field": "v", "type": "quantitative",
  "axis": {"title": "Potenza (kW)", "values": [0,20,40,60,80,100,120,140,160,180,200,220,240,260,280,300,320,340,360,380,400,420],
   "labelFont": "DejaVu Sans", "labelFontSize": 15, "labelColor": "#333333", "labelPadding": 8, "labelOverlap": false, "labelBound": false, "labelFlush": false,
   "ticks": false, "domain": false, "grid": true, "gridColor": "#deded2", "gridWidth": 1,
   "titleFont": "DejaVu Sans", "titleFontSize": 15, "titleFontWeight": "bold", "titleColor": "#1f2d4d",
   "titleX": -68, "titleY": 256, "titleBaseline": "middle", "titleAlign": "center", "titleAngle": -90}},
"detail": {"field": "s", "type": "nominal"},
"order": {"field": "h", "type": "quantitative"}
}
},
{
"data": {"name": "lines"},
"mark": {"type": "line", "strokeWidth": 2.8, "strokeJoin": "round", "interpolate": "linear"},
"encoding": {
"x": {"field": "h", "type": "quantitative"},
"y": {"field": "v", "type": "quantitative",
  "axis": {"title": "Potenza (kW)", "values": [0,20,40,60,80,100,120,140,160,180,200,220,240,260,280,300,320,340,360,380,400,420],
   "labelFont": "DejaVu Sans", "labelFontSize": 15, "labelColor": "#333333", "labelPadding": 8, "labelOverlap": false, "labelBound": false, "labelFlush": false,
   "ticks": false, "domain": false, "grid": true, "gridColor": "#deded2", "gridWidth": 1,
   "titleFont": "DejaVu Sans", "titleFontSize": 15, "titleFontWeight": "bold", "titleColor": "#1f2d4d",
   "titleX": -68, "titleY": 256, "titleBaseline": "middle", "titleAlign": "center", "titleAngle": -90}},
"color": {"field": "s", "type": "nominal", "legend": null,
  "scale": {"domain": ["A","B","C","D","E","F","G","H","I","J","K","L","M","N","O","P","Q"],
   "range": ["#36b6dd","#cc3b2e","#6f6f6f","#e27be6","#2b2b2b","#9c6fa0","#8f8d74","#9be23b","#2268d6","#9e1533","#5cb52f","#a63fcf","#933a9e","#4bd3e3","#d5a02b","#173b8d","#9b3bf0"]}},
"order": {"field": "h", "type": "quantitative"}
}
}
]
}
